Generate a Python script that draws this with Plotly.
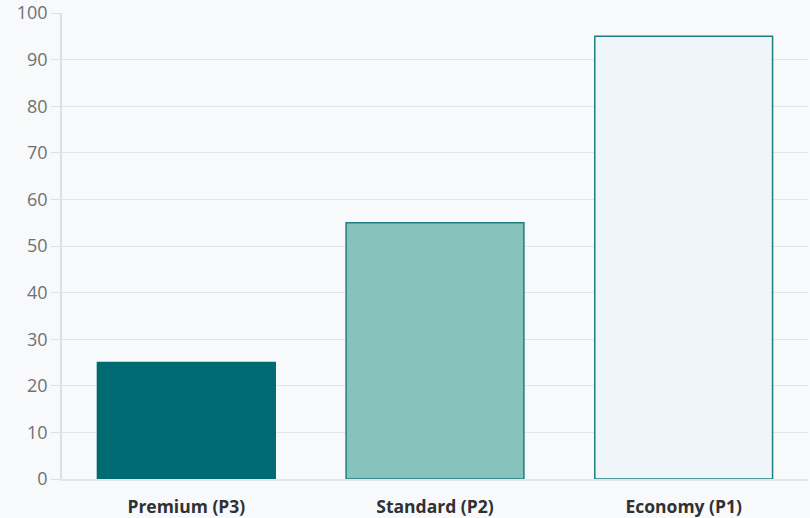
import plotly.graph_objects as go

categories = ["Premium (P3)", "Standard (P2)", "Economy (P1)"]
values = [25, 55, 95]
fill_colors = ["#006b73", "#87c3bd", "#eef6f9"]
line_colors = ["#006b73", "#1f7d80", "#1f7d80"]
y_ticks = [0, 10, 20, 30, 40, 50, 60, 70, 80, 90, 100]

fig = go.Figure(
    go.Bar(
        x=categories,
        y=values,
        marker=dict(color=fill_colors, line=dict(color=line_colors, width=1.5)),
        width=0.715,
        hoverinfo="x+y",
    )
)

fig.update_layout(
    width=810,
    height=518,
    margin=dict(l=62, r=2, t=13, b=39),
    paper_bgcolor="#f8f9fb",
    plot_bgcolor="#f8f9fb",
    showlegend=False,
    font=dict(family="Open Sans, sans-serif"),
)

fig.update_yaxes(
    range=[0, 100],
    tickvals=y_ticks,
    automargin=False,
    showgrid=True,
    gridcolor="#e3e5e9",
    gridwidth=1,
    zeroline=False,
    showline=True,
    linecolor="#dcdfe3",
    linewidth=1.5,
    ticks="outside",
    ticklen=9,
    tickcolor="#dcdfe3",
    tickfont=dict(size=18, color="#6e7174", family="Open Sans, sans-serif"),
)

fig.update_xaxes(
    automargin=False,
    showline=True,
    linecolor="#e3e5e9",
    linewidth=1.5,
    showgrid=False,
    ticks="",
    ticklabelstandoff=11,
    tickfont=dict(size=17.5, color="#2f3133", family="Open Sans, sans-serif", weight="bold"),
)

fig.write_html("out.html")
